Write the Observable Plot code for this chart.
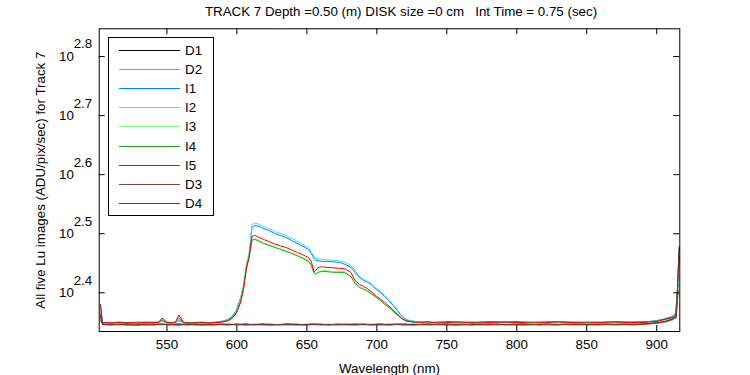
<!DOCTYPE html>
<html><head><meta charset="utf-8">
<script src="https://cdn.jsdelivr.net/npm/d3@7"></script>
<script src="https://cdn.jsdelivr.net/npm/@observablehq/plot@0.6"></script>
<style>
body{margin:0;background:#fff;}
#wrap{position:relative;width:750px;height:375px;font-family:"Liberation Sans",Arial,sans-serif;font-size:13.33px;color:#000;overflow:hidden;}
#title{position:absolute;left:0;width:802px;top:4px;text-align:center;white-space:pre;line-height:15px;}
#chart{position:absolute;left:0;top:0;}
#legend{position:absolute;left:108px;top:37px;width:106px;height:179px;border:1px solid #000;background:#fff;box-sizing:border-box;}
.row{position:absolute;left:0;height:0;}
.swatch{position:absolute;left:10px;width:61px;height:1px;top:0;}
.lab{position:absolute;left:76px;top:-7px;line-height:15px;white-space:nowrap;}
</style>
</head><body>
<div id="wrap">
  <div id="chart"></div>
  <div id="title"></div>
  <div id="legend"></div>
</div>
<script>
// Illuminated-series wavelengths (nm)
const W = [502.5, 503.5, 506, 510, 515, 520, 525, 530, 535, 540,
  544, 546.5, 550, 553, 556, 558.5, 562, 566, 570, 575,
  580, 585, 590, 593.5, 596.5, 599.6, 602.7, 604.7, 606.8, 608.8,
  609.8, 610.8, 612.8, 615.9, 618.9, 622.9, 627, 631, 635, 639,
  643.1, 647.1, 651.1, 653.1, 655.2, 656.2, 658.2, 661.2, 665.2, 669.3,
  673.3, 677.3, 681.4, 684.4, 687.4, 690.4, 693.5, 696.5, 699.5, 702.5,
  705.5, 708.6, 711.6, 714.6, 717.6, 720.7, 723.7, 727.7, 731.8, 736,
  741, 746, 751, 760, 770, 780, 790, 800, 810, 820,
  830, 840, 850, 860, 870, 880, 890, 895, 900, 904,
  907, 911, 913.5, 915.3];

const I1 = [229.9, 223.3, 223.7, 223.3, 223.7, 222.8, 223.3, 223.7, 223.3, 223.7,
  224.1, 225.0, 223.3, 223.7, 223.3, 225.4, 223.7, 222.8, 223.3, 223.7,
  223.3, 224.1, 225.0, 226.4, 229.0, 234.5, 246.7, 257.6, 278.4, 291.8,
  306.9, 324.0, 326.6, 325.3, 322.8, 320.3, 316.6, 314.1, 311.7, 308.1,
  304.5, 301.0, 297.5, 292.9, 287.2, 285.0, 284.4, 283.9, 283.9, 283.3,
  282.8, 280.6, 277.3, 272.0, 266.8, 263.6, 261.6, 258.6, 254.6, 251.6,
  247.7, 243.8, 239.1, 234.5, 229.5, 226.4, 225.0, 224.6, 223.7, 224.1,
  223.7, 223.7, 224.1, 223.3, 223.7, 224.1, 223.7, 223.7, 224.1, 223.7,
  223.7, 224.1, 223.7, 224.1, 223.7, 223.7, 224.6, 224.6, 225.4, 226.4,
  227.7, 229.0, 231.8, 259.6];

const I2 = [227.3, 223.7, 223.3, 223.7, 222.8, 223.3, 223.7, 223.3, 223.7, 224.1,
  223.7, 224.6, 223.7, 223.3, 223.7, 225.0, 223.3, 223.3, 222.8, 223.3,
  223.7, 223.7, 224.6, 226.0, 228.1, 233.6, 245.7, 258.6, 280.6, 294.0,
  310.5, 327.9, 329.8, 327.9, 325.3, 322.8, 319.0, 316.6, 314.1, 310.5,
  306.9, 303.3, 299.8, 295.2, 289.5, 287.2, 286.7, 286.1, 285.6, 285.0,
  284.4, 282.8, 279.5, 274.1, 267.8, 264.7, 262.6, 259.6, 255.6, 252.6,
  248.6, 244.8, 240.0, 235.4, 229.9, 226.8, 225.4, 224.6, 224.1, 223.7,
  223.7, 224.1, 223.7, 223.7, 224.1, 223.7, 224.1, 224.1, 223.7, 223.7,
  224.1, 223.7, 223.7, 223.7, 223.7, 224.1, 224.1, 224.6, 225.0, 226.4,
  227.3, 229.0, 230.9, 265.0];

const I3 = [226.4, 223.7, 223.3, 224.1, 223.3, 223.7, 224.1, 223.7, 223.3, 224.1,
  223.7, 226.4, 223.7, 224.1, 223.3, 228.1, 223.3, 223.7, 224.1, 223.3,
  223.7, 224.1, 224.6, 225.4, 227.3, 232.7, 243.8, 256.6, 277.3, 289.5,
  299.8, 309.3, 310.5, 308.1, 305.7, 303.3, 301.0, 298.6, 296.3, 294.0,
  291.2, 288.4, 285.0, 280.6, 272.0, 271.0, 273.1, 274.1, 273.6, 273.1,
  273.1, 272.6, 268.8, 261.6, 257.6, 255.6, 253.6, 250.6, 247.7, 244.8,
  241.0, 238.2, 234.5, 230.9, 227.7, 225.4, 224.6, 224.1, 224.1, 223.7,
  224.1, 224.6, 224.1, 223.7, 224.6, 224.1, 224.6, 223.7, 224.1, 224.6,
  223.7, 224.1, 223.7, 224.6, 223.7, 224.1, 223.7, 224.1, 224.6, 225.4,
  226.4, 227.7, 229.5, 251.6];

const I4 = [225.4, 223.3, 223.7, 223.3, 224.1, 223.7, 223.3, 224.1, 223.7, 223.3,
  224.1, 226.0, 223.3, 223.7, 224.1, 227.3, 223.7, 223.3, 223.7, 224.1,
  223.3, 223.7, 224.6, 225.4, 227.7, 232.7, 242.9, 255.6, 276.3, 288.4,
  298.6, 308.1, 309.3, 306.9, 304.5, 302.1, 299.8, 297.5, 295.2, 292.9,
  290.1, 287.2, 283.9, 279.5, 271.0, 269.9, 272.0, 273.1, 272.6, 272.0,
  272.0, 271.5, 267.8, 260.6, 256.6, 254.6, 252.6, 249.6, 246.7, 243.8,
  240.0, 237.3, 233.6, 230.4, 227.3, 225.0, 224.6, 223.7, 224.1, 224.6,
  223.7, 224.1, 224.6, 224.1, 223.7, 224.6, 224.1, 224.6, 223.7, 224.1,
  224.6, 223.7, 224.1, 223.7, 224.6, 224.1, 224.1, 224.6, 225.0, 226.0,
  226.8, 228.1, 229.9, 250.6];

const I5 = [229.0, 223.3, 223.7, 223.3, 223.7, 223.3, 223.7, 223.3, 224.1, 223.7,
  223.7, 227.7, 224.1, 223.3, 223.7, 230.4, 223.7, 223.3, 223.3, 223.7,
  223.3, 223.7, 224.1, 225.0, 227.3, 231.8, 241.9, 254.6, 276.3, 289.5,
  302.1, 312.9, 314.1, 311.7, 309.3, 306.9, 303.9, 301.5, 299.8, 296.9,
  294.0, 291.2, 288.4, 283.9, 272.6, 274.1, 277.3, 277.9, 277.3, 276.8,
  276.3, 275.7, 272.0, 263.6, 259.6, 257.6, 255.1, 251.6, 248.2, 245.2,
  241.9, 238.6, 235.0, 231.3, 227.7, 225.4, 224.6, 224.1, 223.7, 223.3,
  223.7, 223.3, 223.7, 224.1, 223.3, 223.7, 224.1, 223.7, 223.3, 223.7,
  224.1, 223.7, 223.3, 223.7, 224.1, 223.7, 223.7, 224.1, 224.6, 226.0,
  226.8, 228.1, 229.9, 253.6];

// Dark-series wavelengths (nm)
const DW = [502.5, 504, 510, 516, 522, 528, 534, 540, 546, 552,
  558, 564, 570, 576, 582, 588, 594, 600, 606, 612,
  618, 624, 630, 636, 642, 648, 654, 660, 666, 672,
  678, 684, 690, 696, 702, 708, 714, 720, 726, 732,
  738, 744, 750, 756, 762, 768, 774, 780, 786, 792,
  798, 804, 810, 816, 822, 828, 834, 840, 846, 852,
  858, 864, 870, 876, 882, 888, 894, 900, 906, 911,
  914, 916];

const D1 = [232.0, 222.1, 221.9, 222.2, 221.8, 222.3, 221.6, 222.0, 222.4, 221.7,
  222.1, 222.3, 221.8, 222.0, 221.6, 222.3, 222.1, 221.9, 222.4, 221.7,
  222.2, 222.0, 221.8, 222.4, 222.0, 221.7, 222.3, 222.1, 221.9, 222.0,
  222.3, 221.7, 222.2, 222.0, 222.4, 221.8, 222.1, 222.3, 221.9, 222.0,
  222.2, 221.8, 222.4, 222.0, 221.7, 222.2, 222.1, 222.3, 221.8, 222.1,
  222.0, 222.4, 221.9, 222.1, 222.2, 221.8, 222.0, 222.3, 222.2, 222.0,
  222.1, 222.3, 221.9, 222.2, 222.0, 222.3, 222.7, 223.2, 224.3, 226.0,
  228.2, 290.0];

const D2 = [232.0, 221.6, 221.2, 221.8, 221.4, 221.0, 221.7, 221.3, 221.9, 221.5,
  221.1, 221.8, 221.4, 221.6, 221.0, 221.7, 221.3, 221.9, 221.2, 221.6,
  221.4, 221.0, 221.8, 221.3, 221.6, 221.1, 221.7, 221.4, 221.2, 221.8,
  221.5, 221.1, 221.7, 221.3, 221.6, 221.0, 221.8, 221.4, 221.2, 221.6,
  221.3, 221.7, 221.5, 221.1, 221.8, 221.4, 221.6, 221.2, 221.7, 221.3,
  221.6, 221.1, 221.8, 221.4, 221.5, 221.2, 221.7, 221.3, 221.6, 221.5,
  221.2, 221.7, 221.4, 221.6, 221.3, 221.7, 222.2, 222.9, 224.0, 225.8,
  228.0, 285.0];

const D3 = [240.0, 222.4, 221.8, 222.3, 221.6, 222.0, 222.5, 221.7, 222.2, 221.9,
  222.6, 221.5, 222.1, 222.4, 221.8, 222.0, 222.3, 221.6, 222.2, 221.9,
  222.5, 221.7, 222.0, 222.3, 221.5, 222.1, 222.4, 221.8, 222.2, 221.6,
  222.0, 222.5, 221.9, 222.1, 221.7, 222.3, 222.0, 221.6, 222.4, 221.8,
  222.2, 222.0, 221.7, 222.3, 222.1, 221.6, 222.4, 221.9, 222.2, 221.8,
  222.5, 222.0, 221.7, 222.3, 222.1, 221.9, 222.4, 222.0, 221.8, 222.3,
  222.2, 222.0, 222.4, 221.9, 222.3, 222.1, 222.6, 223.3, 224.5, 226.4,
  229.0, 298.0];

const D4 = [240.0, 222.0, 222.3, 221.7, 222.2, 221.5, 222.1, 222.4, 221.8, 222.3,
  221.7, 222.2, 221.9, 221.5, 222.4, 222.1, 221.8, 222.5, 221.7, 222.2,
  221.9, 222.3, 221.6, 222.1, 222.4, 221.8, 222.0, 222.3, 221.7, 222.5,
  221.8, 222.1, 222.4, 221.6, 222.2, 221.9, 222.4, 222.1, 221.7, 222.3,
  221.9, 222.4, 222.1, 221.8, 222.0, 222.3, 221.7, 222.2, 222.4, 222.0,
  221.8, 222.3, 222.1, 221.7, 222.4, 222.2, 221.9, 222.3, 222.1, 221.8,
  222.3, 222.1, 222.0, 222.4, 222.2, 222.0, 222.8, 223.5, 224.8, 226.8,
  228.6, 301.0];

const seriesNames = ["D1", "D2", "I1", "I2", "I3", "I4", "I5", "D3", "D4"];
const seriesColors = ["#000000", "#999999", "#0080ff", "#33e0ff", "#80ff80", "#20a020", "#ff0000", "#804848", "#703838"];
const xTicks = [550, 600, 650, 700, 750, 800, 850, 900];
const yTickExps = [2.4, 2.5, 2.6, 2.7, 2.8];
const xDomain = [501.6, 916.5];
const yDomain = [216.0, 703.0];
const titleText = "TRACK 7 Depth =0.50 (m) DISK size =0 cm   Int Time = 0.75 (sec)";
const xLabel = "Wavelength (nm)";
const yLabel = "All five Lu images (ADU/pix/sec) for Track 7";

const seriesXY = {D1: [DW, D1], D2: [DW, D2], I1: [W, I1], I2: [W, I2], I3: [W, I3], I4: [W, I4], I5: [W, I5], D3: [DW, D3], D4: [DW, D4]};
const tables = seriesNames.map(name => {
  const [xs, ys] = seriesXY[name];
  return xs.map((x, i) => ({x, y: ys[i], series: name}));
});

const width = 750, height = 375;
const mL = 98.7, mR = 70.7, mT = 28.3, mB = 44;
const fw = width - mL - mR, fh = height - mT - mB;
const tick = 6;
const fs = 13.33;
const yTicks = yTickExps.map(e => Math.pow(10, e));
const font = '"Liberation Sans", Arial, sans-serif';

const chart = Plot.plot({
  width, height,
  marginLeft: mL, marginRight: mR, marginTop: mT, marginBottom: mB,
  style: {fontFamily: font, fontSize: fs + "px", background: "transparent", color: "#000", overflow: "visible"},
  x: {domain: xDomain},
  y: {type: "log", domain: yDomain},
  marks: [
    ...tables.map((t, i) => Plot.line(t, {x: "x", y: "y", stroke: seriesColors[i], strokeWidth: 1})),
    Plot.frame({stroke: "#000"}),
    Plot.tickX(xTicks, {x: d => d, insetTop: fh - tick, stroke: "#000"}),
    Plot.tickX(xTicks, {x: d => d, insetBottom: fh - tick, stroke: "#000"}),
    Plot.tickY(yTicks, {y: d => d, insetRight: fw - tick, stroke: "#000"}),
    Plot.tickY(yTicks, {y: d => d, insetLeft: fw - tick, stroke: "#000"}),
    Plot.axisX(xTicks, {anchor: "bottom", tickSize: 0, tickPadding: 8, fontSize: fs,
      label: xLabel, labelAnchor: "center", labelOffset: 41, labelArrow: "none"}),
    Plot.axisY(yTicks, {anchor: "left", tickSize: 0, tickPadding: 25.4, fontSize: fs,
      tickFormat: () => "10",
      label: yLabel, labelAnchor: "center", labelOffset: 64, labelArrow: "none"}),
    Plot.axisY(yTicks, {anchor: "left", tickSize: 0, tickPadding: 7, fontSize: fs, dy: -12.3,
      tickFormat: d => d3.format(".1f")(Math.log10(d)), label: null})
  ]
});
document.getElementById("chart").appendChild(chart);
document.getElementById("title").textContent = titleText;

const legend = document.getElementById("legend");
seriesNames.forEach((name, i) => {
  const row = document.createElement("div");
  row.className = "row";
  row.style.top = Math.round(12 + i * 19.12) + "px";
  const sw = document.createElement("div");
  sw.className = "swatch";
  sw.style.backgroundColor = seriesColors[i];
  const lab = document.createElement("div");
  lab.className = "lab";
  lab.textContent = name;
  row.appendChild(sw);
  row.appendChild(lab);
  legend.appendChild(row);
});
</script>
</body></html>
